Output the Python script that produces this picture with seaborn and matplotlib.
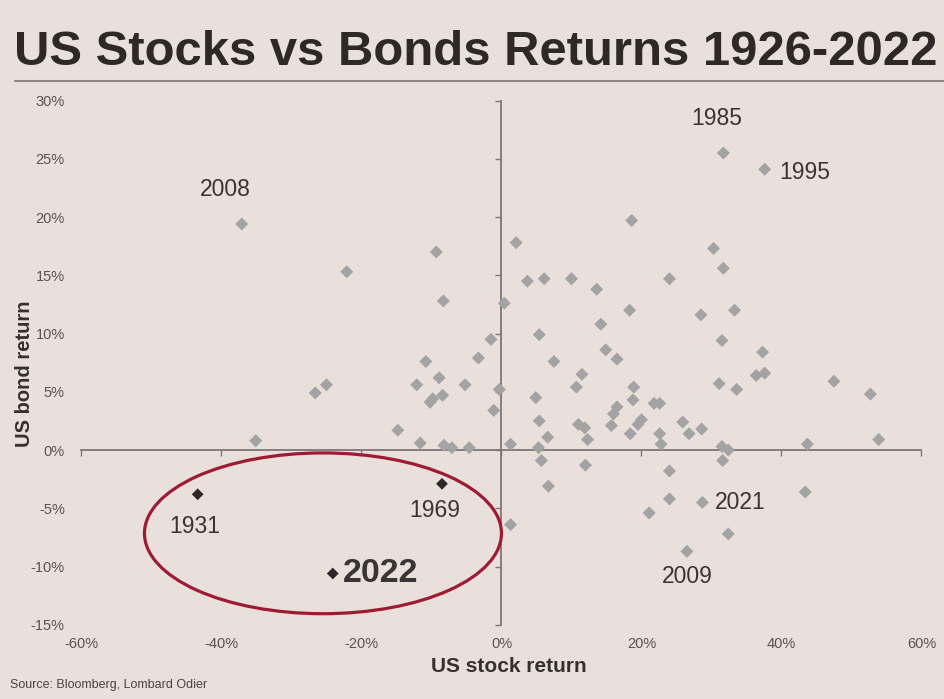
import matplotlib
matplotlib.use("Agg")
import pandas as pd
import matplotlib.pyplot as plt
import seaborn as sns
from matplotlib.patches import Ellipse
from matplotlib.lines import Line2D

# annual returns in % (x = stocks, y = bonds)
stock_returns = [
    -22.1, -25.0, -26.6, -35.1, -9.3, -8.3, 0.4, -1.5, -10.8, -3.3,
    -12.1, -8.9, -5.2, -0.3, -8.4, -9.8, -10.2, -1.1, -14.8, -11.6,
    -8.2, -7.1, -4.6, 1.3, 18.6, 2.1, 30.3, 31.7, 3.7, 6.1,
    10.0, 13.6, 24.0, 18.3, 33.3, 14.2, 28.5, 5.4, 31.5, 14.9,
    16.5, 7.5, 11.5, 10.7, 18.9, 18.8, 21.8, 22.6, 31.1, 33.6,
    4.9, 16.5, 16.0, 15.7, 5.4, 11.0, 11.9, 12.3, 20.0, 19.5,
    18.4, 25.9, 26.8, 28.6, 22.6, 22.8, 6.6, 5.3, 5.7, 12.0,
    24.0, 31.5, 32.4, 31.6, 37.3, 36.4, 37.6, 47.5, 52.7, 43.7,
    53.9, 6.7, 1.3, 24.0, 21.1, 32.4, 43.4,
]
bond_returns = [
    15.3, 5.6, 4.9, 0.8, 17.0, 12.8, 12.6, 9.5, 7.6, 7.9,
    5.6, 6.2, 5.6, 5.2, 4.7, 4.4, 4.1, 3.4, 1.7, 0.6,
    0.4, 0.2, 0.2, 0.5, 19.7, 17.8, 17.3, 15.6, 14.5, 14.7,
    14.7, 13.8, 14.7, 12.0, 12.0, 10.8, 11.6, 9.9, 9.4, 8.6,
    7.8, 7.6, 6.5, 5.4, 5.4, 4.3, 4.0, 4.0, 5.7, 5.2,
    4.5, 3.7, 3.1, 2.1, 2.5, 2.2, 1.9, 0.9, 2.6, 2.2,
    1.4, 2.4, 1.4, 1.8, 1.4, 0.5, 1.1, 0.2, -0.9, -1.3,
    -1.8, 0.3, 0.0, -0.9, 8.4, 6.4, 6.6, 5.9, 4.8, 0.5,
    0.9, -3.1, -6.4, -4.2, -5.4, -7.2, -3.6,
]

# grey years with a label
label_years = ["2008", "1985", "1995", "2021", "2009"]
label_stock = [-37.1, 31.7, 37.6, 28.7, 26.5]
label_bond = [19.4, 25.5, 24.1, -4.5, -8.7]

# years where stocks and bonds both fell
down_years = ["1931", "1969", "2022"]
down_stock = [-43.4, -8.5, -24.1]
down_bond = [-3.8, -2.9, -10.6]

x_ticks = [-60, -40, -20, 0, 20, 40, 60]
y_ticks = [-15, -10, -5, 0, 5, 10, 15, 20, 25, 30]

# label placement, offset in points from the point
label_offsets = {
    "2008": (-12, 25, "center"), "1985": (-5, 24.5, "center"),
    "1995": (10.5, -2, "left"), "2021": (9, 0, "left"),
    "2009": (0, -18, "center"), "1931": (-2, -23, "center"),
    "1969": (-5, -19, "center"), "2022": (7, 0, "left"),
}

BG = "#E9E0DC"
GREY = "#A3A3A3"
DARK = "#2E2727"
AXIS = "#7E7574"
RED = "#9D1B34"

sns.set_theme(style="white")
plt.rcParams["font.family"] = ["Liberation Sans", "DejaVu Sans"]

df = pd.DataFrame({
    "stock": stock_returns + label_stock + down_stock,
    "bond": bond_returns + label_bond + down_bond,
    "group": ["other"] * (len(stock_returns) + len(label_stock)) + ["down"] * len(down_stock),
})

fig = plt.figure(figsize=(9.45, 6.99), dpi=100, facecolor=BG)
ax = fig.add_axes([0.0862, 0.1062, 0.8889, 0.75], facecolor=BG)

sns.scatterplot(data=df, x="stock", y="bond", hue="group", size="group",
                palette={"other": GREY, "down": DARK}, sizes={"other": 44, "down": 36},
                marker="D", linewidth=0, legend=False, ax=ax, zorder=3)

ax.set_xlim(-60, 60)
ax.set_ylim(-15, 30)
ax.set_xticks(x_ticks)
ax.set_xticklabels([f"{v}%" for v in x_ticks])
ax.set_yticks(y_ticks)
ax.set_yticklabels([f"{v}%" for v in y_ticks])
for s in ax.spines.values():
    s.set_visible(False)
ax.tick_params(length=0, colors="#5A5353", labelsize=10.5)
ax.tick_params(axis="x", pad=9)
ax.tick_params(axis="y", pad=12)

# axes crossing at zero
y0 = (0 - ax.get_ylim()[0]) / (ax.get_ylim()[1] - ax.get_ylim()[0])
x0 = (0 - ax.get_xlim()[0]) / (ax.get_xlim()[1] - ax.get_xlim()[0])
sec_x = ax.secondary_xaxis(y0)
sec_x.set_xticks(x_ticks)
sec_x.tick_params(direction="out", length=4, width=1, color=AXIS, labelbottom=False, labeltop=False)
sec_x.spines["bottom"].set_color(AXIS)
sec_x.spines["bottom"].set_linewidth(1.3)
sec_y = ax.secondary_yaxis(x0)
sec_y.set_alignment("left")
sec_y.set_yticks(y_ticks)
sec_y.tick_params(direction="out", length=4, width=1, color=AXIS, labelleft=False, labelright=False)
sec_y.spines["left"].set_color(AXIS)
sec_y.spines["left"].set_linewidth(1.3)

ax.set_xlabel("US stock return", fontsize=15, fontweight="bold", color="#352F2E")
ax.set_ylabel("US bond return", fontsize=14.5, fontweight="bold", color="#352F2E")
ax.xaxis.set_label_coords(0.509, -0.062)
ax.yaxis.set_label_coords(-0.056, 0.478)

# year labels
for yr, xs, ys in zip(label_years + down_years, label_stock + down_stock, label_bond + down_bond):
    dx, dy, ha = label_offsets[yr]
    big = yr == "2022"
    ax.annotate(yr, (xs, ys), xytext=(dx, dy), textcoords="offset points",
                ha=ha, va="center", fontsize=24.5 if big else 16.5,
                fontweight="bold" if big else "normal", color="#3A3434", zorder=4)

ax.add_patch(Ellipse((-25.5, -7.15), width=51.0, height=13.8, fill=False,
                     edgecolor=RED, linewidth=2.3, zorder=2))

fig.text(0.015, 0.907, "US Stocks vs Bonds Returns 1926-2022", fontsize=35.3,
         fontweight="bold", color="#2E2826", va="baseline")
fig.add_artist(Line2D([0.016, 1.0], [0.8845, 0.8845], color="#8F8583", linewidth=1.5))
fig.text(0.0106, 0.02, "Source: Bloomberg, Lombard Odier", fontsize=9, color="#4A4343", va="center")

fig.savefig("out.png", dpi=100, facecolor=BG)
